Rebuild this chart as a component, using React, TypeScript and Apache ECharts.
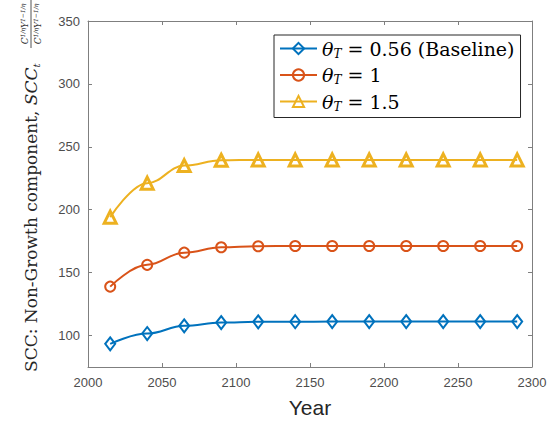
import React, { useEffect, useRef } from 'react';
import * as echarts from 'echarts';

const years = [2015, 2040, 2065, 2090, 2115, 2140, 2165, 2190, 2215, 2240, 2265, 2290];
const baselineValues = [93.4, 101.6, 107.7, 110.3, 110.9, 111.0, 111.1, 111.1, 111.1, 111.1, 111.1, 111.1];
const theta1Values = [138.9, 156.2, 165.9, 170.2, 171.0, 171.2, 171.2, 171.2, 171.2, 171.2, 171.2, 171.2];
const theta15Values = [194.1, 221.1, 235.1, 239.3, 239.6, 239.6, 239.6, 239.6, 239.6, 239.6, 239.6, 239.6];
const seriesNames = ['θT = 0.56 (Baseline)', 'θT = 1', 'θT = 1.5'];
const seriesRest = ['0.56 (Baseline)', '1', '1.5'];
const xTicks = [2000, 2050, 2100, 2150, 2200, 2250, 2300];
const yTicks = [100, 150, 200, 250, 300, 350];

const colors = ['#0072BD', '#D95319', '#EDB120'];
const symbols = ['diamond', 'circle', 'triangle'];
const symbolSizes: any[] = [[10, 13], 10, 12];
const borderWidths = [2, 2, 3];
const serif = 'DejaVu Serif';
const sans = 'Liberation Sans';

export default function App() {
  const ref = useRef<HTMLDivElement>(null);
  useEffect(() => {
    if (!ref.current) return;
    const chart = echarts.init(ref.current, undefined, { renderer: 'svg' });
    const dataSets = [baselineValues, theta1Values, theta15Values];
    const series = dataSets.map((vals, i) => ({
      name: seriesNames[i],
      type: 'line',
      data: years.map((y, j) => [y, vals[j]]),
      smooth: 0.4,
      smoothMonotone: 'x',
      symbol: symbols[i],
      symbolSize: symbolSizes[i],
      showAllSymbol: true,
      lineStyle: { color: colors[i], width: 2 },
      itemStyle: { color: 'rgba(255,255,255,0)', borderColor: colors[i], borderWidth: borderWidths[i] },
      emphasis: { disabled: true },
    }));
    const axisColor = '#7f7f7f';
    const labelColor = '#4d4d4d';
    const fracRich = {
      c: { fontFamily: serif, fontStyle: 'italic', fontSize: 9, fill: '#262626', lineHeight: 11 },
      p: { fontFamily: serif, fontStyle: 'italic', fontSize: 6, fill: '#262626', lineHeight: 11, verticalAlign: 'top' },
    };
    chart.setOption({
      animation: false,
      backgroundColor: '#ffffff',
      grid: { left: 88, right: 23, top: 21, bottom: 56 },
      legend: {
        orient: 'vertical',
        left: 274,
        top: 35,
        width: 246,
        padding: [4, 6, 5, 5],
        itemGap: 6,
        itemWidth: 37,
        itemHeight: 14,
        borderColor: '#262626',
        borderWidth: 1,
        backgroundColor: '#ffffff',
        align: 'left',
        data: seriesNames,
        formatter: (name: string) => {
          const i = seriesNames.indexOf(name);
          return `{th|θ}{sub|T}{eq| = ${seriesRest[i]}}`;
        },
        textStyle: {
          color: '#000',
          rich: {
            th: { fontFamily: serif, fontStyle: 'italic', fontSize: 19, lineHeight: 22, verticalAlign: 'middle' },
            sub: { fontFamily: serif, fontStyle: 'italic', fontSize: 12, lineHeight: 22, verticalAlign: 'bottom', padding: [8, 0, 0, 0] },
            eq: { fontFamily: serif, fontSize: 19, lineHeight: 22, verticalAlign: 'middle' },
          },
        },
      },
      xAxis: [
        {
          type: 'value', min: 2000, max: 2300, interval: 50,
          name: 'Year', nameLocation: 'middle', nameGap: 30,
          nameTextStyle: { fontFamily: sans, fontSize: 21, color: '#262626' },
          axisLine: { show: true, lineStyle: { color: axisColor, width: 1 } },
          axisTick: { show: true, inside: true, length: 4, customValues: xTicks, lineStyle: { color: axisColor } },
          axisLabel: { fontFamily: sans, fontSize: 13, color: labelColor, margin: 9, customValues: xTicks, formatter: (v: number) => String(v) },
          splitLine: { show: false },
        },
        {
          type: 'value', min: 2000, max: 2300, interval: 50, position: 'top',
          axisLine: { show: true, lineStyle: { color: axisColor, width: 1 } },
          axisTick: { show: true, inside: true, length: 4, customValues: xTicks, lineStyle: { color: axisColor } },
          axisLabel: { show: false },
          splitLine: { show: false },
        },
      ],
      yAxis: [
        {
          type: 'value', min: 75, max: 350,
          axisLine: { show: true, lineStyle: { color: axisColor, width: 1 } },
          axisTick: { show: true, inside: true, length: 4, customValues: yTicks, lineStyle: { color: axisColor } },
          axisLabel: { fontFamily: sans, fontSize: 13, color: labelColor, margin: 8, customValues: yTicks },
          splitLine: { show: false },
        },
        {
          type: 'value', min: 75, max: 350, position: 'right',
          axisLine: { show: true, lineStyle: { color: axisColor, width: 1 } },
          axisTick: { show: true, inside: true, length: 4, customValues: yTicks, lineStyle: { color: axisColor } },
          axisLabel: { show: false, customValues: yTicks },
          splitLine: { show: false },
        },
      ],
      graphic: [
        {
          type: 'group',
          x: 31,
          y: 372,
          rotation: Math.PI / 2,
          children: [
            {
              type: 'text', x: 0, y: 0,
              style: {
                text: '{n|SCC: Non-Growth component, }{i|SCC}{s|t}',
                align: 'left', verticalAlign: 'middle',
                fill: '#262626',
                rich: {
                  n: { fontFamily: serif, fontSize: 17, fill: '#262626', lineHeight: 20 },
                  i: { fontFamily: serif, fontStyle: 'italic', fontSize: 17, fill: '#262626', lineHeight: 20 },
                  s: { fontFamily: serif, fontStyle: 'italic', fontSize: 10, fill: '#262626', lineHeight: 20, verticalAlign: 'bottom', padding: [6, 0, 0, 0] },
                },
              },
            },
            {
              type: 'line', shape: { x1: 324, y1: 0, x2: 372, y2: 0 },
              style: { stroke: '#262626', lineWidth: 0.8 },
            },
            {
              type: 'text', x: 348, y: -6,
              style: { text: '{c|C}{p|1/η}{c|Y}{p|1−1/η}', align: 'center', verticalAlign: 'middle', rich: fracRich },
            },
            {
              type: 'text', x: 348, y: 7,
              style: { text: '{c|C}{p|1/η}{c|Y}{p|1−1/η}', align: 'center', verticalAlign: 'middle', rich: fracRich },
            },
          ],
        },
      ],
      series,
    });
    return () => chart.dispose();
  }, []);
  return <div ref={ref} style={{ position: 'fixed', left: 0, top: 0, width: 555, height: 423, background: '#fff' }} />;
}
